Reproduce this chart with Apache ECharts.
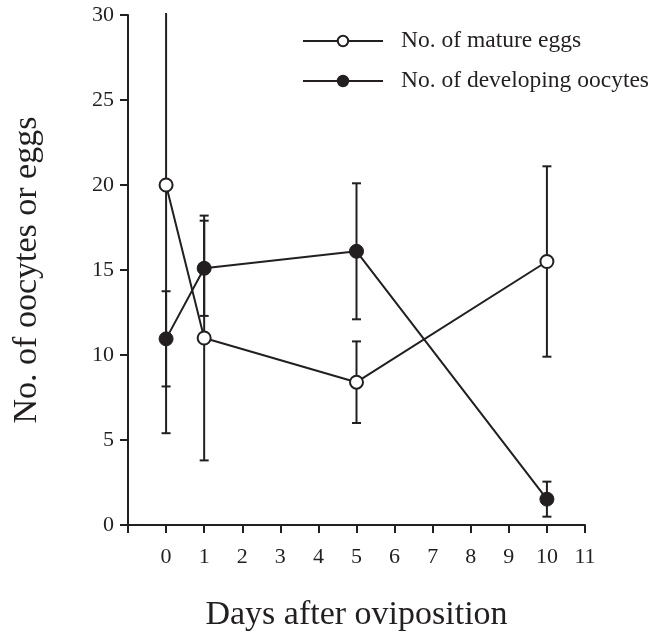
<!DOCTYPE html>
<html>
<head>
<meta charset="utf-8">
<script src="https://cdn.jsdelivr.net/npm/echarts@6/dist/echarts.min.js"></script>
<style>html,body{margin:0;padding:0;background:#fff}#c{width:662px;height:632px}</style>
</head>
<body>
<div id="c"></div>
<script>
var days = [0, 1, 5, 10];
var matureEggs = [20.0, 11.0, 8.4, 15.5];
var matureErr = [14.6, 7.2, 2.4, 5.6];
var developing = [10.95, 15.1, 16.1, 1.52];
var developingErr = [2.8, 2.8, 4.0, 1.03];
var xTicks = [-1, 0, 1, 2, 3, 4, 5, 6, 7, 8, 9, 10, 11];
var yTicks = [0, 5, 10, 15, 20, 25, 30];
var seriesNames = ['No. of mature eggs', 'No. of developing oocytes'];

var INK = '#231f20';
var FONT = '"Liberation Serif", "Times New Roman", serif';

function errData(vals, errs) {
  return days.map(function (d, i) { return [d, vals[i] - errs[i], vals[i] + errs[i]]; });
}

function errRender(params, api) {
  var cs = params.coordSys;
  var x = api.value(0);
  var lo = api.coord([x, api.value(1)]);
  var hi = api.coord([x, api.value(2)]);
  var top = cs.y, bottom = cs.y + cs.height;
  var hy = Math.max(hi[1], top - 2);
  var ly = Math.min(lo[1], bottom);
  var w = 4.5;
  var children = [{
    type: 'line', shape: {x1: lo[0], y1: ly, x2: hi[0], y2: hy},
    style: {stroke: INK, lineWidth: 2}
  }];
  if (hi[1] >= top) children.push({type: 'line', shape: {x1: hi[0] - w, y1: hi[1], x2: hi[0] + w, y2: hi[1]}, style: {stroke: INK, lineWidth: 2}});
  if (lo[1] <= bottom) children.push({type: 'line', shape: {x1: lo[0] - w, y1: lo[1], x2: lo[0] + w, y2: lo[1]}, style: {stroke: INK, lineWidth: 2}});
  return {type: 'group', children: children};
}

var chart = echarts.init(document.getElementById('c'), null, {renderer: 'canvas'});
chart.setOption({
  animation: false,
  backgroundColor: '#fff',
  grid: {left: 128, right: 77, top: 15, bottom: 107, containLabel: false, outerBoundsMode: 'none'},
  legend: {
    orient: 'vertical', left: 297, top: 24,
    itemWidth: 80, itemHeight: 13, itemGap: 16,
    data: seriesNames,
    textStyle: {fontFamily: FONT, fontSize: 23.5, color: INK, lineHeight: 23, padding: [0, 0, 0, 13]}
  },
  xAxis: {
    type: 'value', min: xTicks[0], max: xTicks[xTicks.length - 1], interval: 1,
    splitLine: {show: false},
    axisLine: {onZero: false, lineStyle: {color: INK, width: 2}},
    axisTick: {length: 8, lineStyle: {color: INK, width: 2}},
    axisLabel: {
      fontFamily: FONT, fontSize: 22, color: INK, margin: 21,
      formatter: function (v) { return v < 0 ? '' : String(v); }
    },
    name: 'Days after oviposition', nameLocation: 'middle', nameGap: 73,
    nameTextStyle: {fontFamily: FONT, fontSize: 34, color: INK}
  },
  yAxis: {
    type: 'value', min: yTicks[0], max: yTicks[yTicks.length - 1], interval: 5,
    splitLine: {show: false},
    axisLine: {onZero: false, lineStyle: {color: INK, width: 2}},
    axisTick: {length: 8, lineStyle: {color: INK, width: 2}},
    axisLabel: {fontFamily: FONT, fontSize: 22, color: INK, margin: 14},
    name: 'No. of oocytes or eggs', nameLocation: 'middle', nameGap: 84, nameRotate: 90,
    nameTextStyle: {fontFamily: FONT, fontSize: 34, color: INK}
  },
  series: [
    {type: 'custom', renderItem: errRender, data: errData(matureEggs, matureErr), z: 1, silent: true},
    {type: 'custom', renderItem: errRender, data: errData(developing, developingErr), z: 1, silent: true},
    {
      name: seriesNames[0], type: 'line', z: 3,
      data: days.map(function (d, i) { return [d, matureEggs[i]]; }),
      symbol: 'circle', symbolSize: 13, showAllSymbol: true,
      lineStyle: {color: INK, width: 2},
      itemStyle: {color: '#fff', borderColor: INK, borderWidth: 2}
    },
    {
      name: seriesNames[1], type: 'line', z: 3,
      data: days.map(function (d, i) { return [d, developing[i]]; }),
      symbol: 'circle', symbolSize: 14, showAllSymbol: true,
      lineStyle: {color: INK, width: 2},
      itemStyle: {color: INK, borderColor: INK, borderWidth: 1}
    }
  ]
});
</script>
</body>
</html>
